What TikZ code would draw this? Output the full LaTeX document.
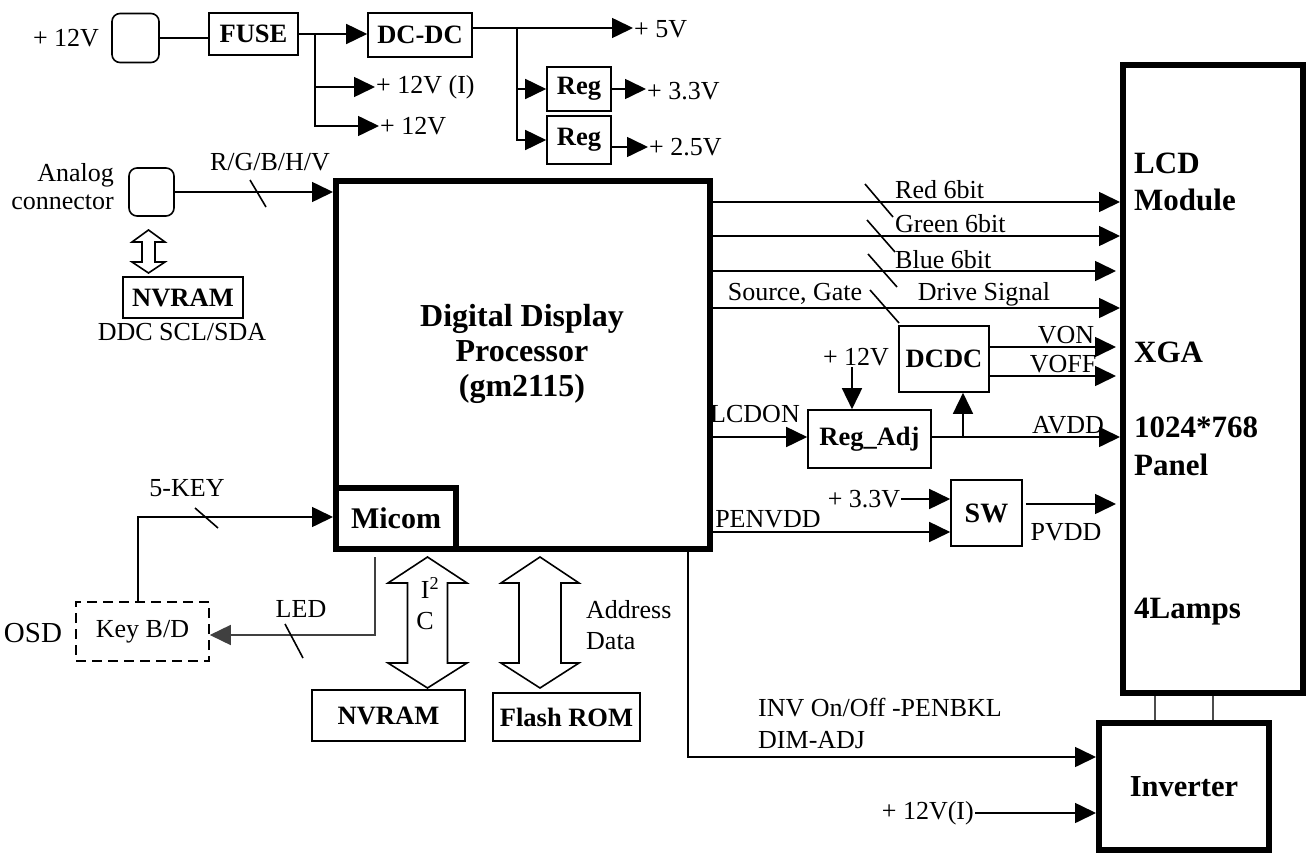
\documentclass[tikz,border=0pt]{standalone}
\usepackage{fontspec}
\setmainfont{Liberation Serif}
\usetikzlibrary{arrows.meta,calc}
\tikzset{
  every node/.style={font=\fontsize{26}{30}\selectfont, inner sep=1pt},
  bx/.style={draw, line width=1.6pt, inner sep=0pt, font=\fontsize{26.5}{30}\selectfont\bfseries},
  tbx/.style={draw, line width=6pt, inner sep=0pt},
  ln/.style={line width=1.6pt},
  ar/.style={line width=1.6pt, -{Triangle[length=21pt,width=20pt]}},
  big/.style={font=\fontsize{31}{36}\selectfont\bfseries},
  ttl/.style={font=\fontsize{32}{35}\selectfont\bfseries, align=center},
  hollow/.style={line width=1.6pt, fill=white},
}
\begin{document}
\begin{tikzpicture}[x=1pt,y=-1pt]
\useasboundingbox (0,0) rectangle (1308,853);

% ---------- power section ----------
\node (l12a) at (66,38) {+ 12V};
\node[draw, line width=1.6pt, rounded corners=8pt, minimum width=47pt, minimum height=49pt] (pwr) at (135.5,38) {};
\node[bx, minimum width=89pt, minimum height=42pt] (fuse) at (253.5,34) {FUSE};
\node[bx, minimum width=104pt, minimum height=44pt] (dcdc1) at (420,35) {DC-DC};
\node[bx, minimum width=64pt, minimum height=44pt] (reg1) at (579,89) {Reg};
\node[bx, minimum width=64pt, minimum height=48pt] (reg2) at (579,140) {Reg};
\node[anchor=west] (l12i) at (375,87) {+ 12V (I)};
\node[anchor=west] (l12) at (379,126) {+ 12V};
\node[anchor=west] (l5v) at (633,29) {+ 5V};
\node[anchor=west] (l33) at (646,91) {+ 3.3V};
\node[anchor=west] (l25) at (648,147) {+ 2.5V};
\coordinate (b1) at (315,34);
\coordinate (b2) at (517,28);

\draw[ln] (pwr.east) -- (pwr.east -| fuse.west);
\draw[ar] (fuse.east) -- (fuse.east -| dcdc1.west);
\draw[ar] (b1) |- (l12i.west);
\draw[ar] (b1) |- (l12.west);
\draw[ar] (dcdc1.east |- b2) -- (b2 -| l5v.west);
\draw[ar] (b2) |- (reg1.west);
\draw[ar] (b2) |- (reg2.west);
\draw[ar] (reg1.east) -- (reg1.east -| l33.west);
\draw[ar] (reg2.east |- l25.west) -- (l25.west);

% ---------- analog input ----------
\node[anchor=east, align=right, font=\fontsize{26}{28}\selectfont] (anal) at (115,187) {Analog\\connector};
\node[draw, line width=1.6pt, rounded corners=8pt, minimum width=45pt, minimum height=48pt] (ana) at (151.5,192) {};
\node (lrgb) at (270,162) {R/G/B/H/V};
\node[bx, minimum width=120pt, minimum height=41pt] (nv1) at (183,297.5) {NVRAM};
\node (lddc) at (182,332) {DDC SCL/SDA};
\draw[hollow] (148.5,230) -- (165,242) -- (155,242) -- (155,262) -- (165,262) -- (148.5,273)
  -- (132,262) -- (142,262) -- (142,242) -- (132,242) -- cycle;

% ---------- main processor ----------
\node[tbx, minimum width=374pt, minimum height=368pt] (ddp) at (523,365) {};
\node[ttl] (ddpt) at (522,354) {Digital Display\\Processor\\(gm2115)};
\node[tbx, minimum width=120pt, minimum height=61pt, font=\fontsize{30}{34}\selectfont\bfseries] (micom) at (396,518.5) {Micom};

\draw[ar] (ana.east) -- (ana.east -| ddp.west);
\draw[ln] (250,180) -- (266,207);

% ---------- LCD module ----------
\node[tbx, minimum width=180pt, minimum height=628pt] (lcd) at (1213,379) {};
\node[big, anchor=west] (tlcd) at (1133,163) {LCD};
\node[big, anchor=west] (tmod) at (1133,200) {Module};
\node[big, anchor=west] (txga) at (1133,352) {XGA};
\node[big, anchor=west] (tres) at (1133,427) {1024*768};
\node[big, anchor=west] (tpan) at (1133,465) {Panel};
\node[big, anchor=west] (tlmp) at (1133,612) {4Lamps};

% signal lines
\draw[ar] (ddp.east |- 0,202) -- (lcd.west |- 0,202);
\draw[ar] (ddp.east |- 0,236) -- (lcd.west |- 0,236);
\draw[ar] (ddp.east |- 0,271) -- ([xshift=-4pt]lcd.west |- 0,271);
\draw[ar] (ddp.east |- 0,308) -- (lcd.west |- 0,308);
\draw[ln] (865,184) -- (893,217);
\draw[ln] (867,220) -- (895,252);
\draw[ln] (868,254) -- (897,287);
\draw[ln] (870,290) -- (899,323);
\node[anchor=west] (lred) at (894,190) {Red 6bit};
\node[anchor=west] (lgrn) at (894,224) {Green 6bit};
\node[anchor=west] (lblu) at (894,260) {Blue 6bit};
\node (lsrc) at (795,294) {Source, Gate};
\node (ldrv) at (984,294) {Drive Signal};

% DCDC / Reg_Adj
\node[bx, minimum width=90pt, minimum height=66pt] (dcdc2) at (944,359) {DCDC};
\node[bx, minimum width=123pt, minimum height=58pt] (regadj) at (869.5,439) {Reg\_Adj};
\node (lvon) at (1066,335) {VON};
\node (lvoff) at (1063,364) {VOFF};
\node (l12b) at (856,357) {+ 12V};
\node (llcd) at (755,414) {LCDON};
\node (lavdd) at (1068,425) {AVDD};
\draw[ar] (dcdc2.east |- 0,347) -- ([xshift=-4pt]lcd.west |- 0,347);
\draw[ar] (dcdc2.east |- 0,376) -- ([xshift=-4pt]lcd.west |- 0,376);
\draw[ar] (852,0 |- l12b.south) -- (852,0 |- regadj.north);
\draw[ar] (ddp.east |- 0,437) -- (regadj.west |- 0,437);
\draw[ar] (regadj.east |- 0,437) -- (lcd.west |- 0,437);
\draw[ar] (963,0 |- regadj.east) ++(0,-2) -- (963,0 |- dcdc2.south);

% SW
\node[bx, minimum width=71pt, minimum height=66pt, font=\fontsize{28}{30}\selectfont\bfseries] (sw) at (986.5,513) {SW};
\node (l33b) at (864,499) {+ 3.3V};
\node (lpen) at (768,519) {PENVDD};
\node (lpvdd) at (1066,532) {PVDD};
\draw[ar] (l33b.east) -- (l33b.east -| sw.west);
\draw[ar] (ddp.east |- 0,532) -- (sw.west |- 0,532);
\draw[ar] ([xshift=3pt]sw.east |- 0,504) -- ([xshift=-4pt]lcd.west |- 0,504);

% ---------- inverter ----------
\node[tbx, minimum width=170pt, minimum height=127pt, font=\fontsize{30.5}{34}\selectfont\bfseries] (inv) at (1184,786.5) {Inverter};
\node[anchor=west] (linv1) at (757,708) {INV On/Off -PENBKL};
\node[anchor=west] (linv2) at (757,740) {DIM-ADJ};
\node[anchor=east] (l12ii) at (975,813) {+ 12V(I)};
\draw[ar] (ddp.south -| 688,0) |- (inv.west |- 0,757);
\draw[ar] (l12ii.east) -- (l12ii.east -| inv.west);
\draw[line width=1.2pt, black!70] (lcd.south -| 1155,0) -- (inv.north -| 1155,0);
\draw[line width=1.2pt, black!70] (lcd.south -| 1213,0) -- (inv.north -| 1213,0);

% ---------- keys ----------
\node[draw, line width=1.6pt, dash pattern=on 10pt off 6pt, minimum width=133pt, minimum height=59pt] (key) at (142.5,631.5) {Key B/D};
\node[font=\fontsize{29}{32}\selectfont] (losd) at (33,633) {OSD};
\node (l5key) at (187,488) {5-KEY};
\node (lled) at (301,609) {LED};
\draw[ar] (key.north -| 138,0) |- (micom.west |- 0,517);
\draw[ln] (195,508) -- (218,528);
\draw[ar, black!75] (micom.south -| 375,0) ++(0,5) |- (key.east |- 0,635);
\draw[ln] (285,624) -- (303,658);

% ---------- memories ----------
\node[bx, minimum width=153pt, minimum height=51pt] (nv2) at (388.5,715.5) {NVRAM};
\node[bx, minimum width=147pt, minimum height=48pt] (flash) at (566.5,717) {Flash ROM};
\draw[hollow] (427.5,557) -- (467,583) -- (447.5,583) -- (447.5,663) -- (467,663) -- (427.5,688)
  -- (388,663) -- (407.5,663) -- (407.5,583) -- (388,583) -- cycle;
\draw[hollow] (540,557) -- (579,583) -- (561,583) -- (561,663) -- (579,663) -- (540,688)
  -- (501,663) -- (519,663) -- (519,583) -- (501,583) -- cycle;
\node (li2c) at (430,588) {I\textsuperscript{2}};
\node (lc) at (425,621) {C};
\node[anchor=west, align=left, font=\fontsize{26}{31}\selectfont] (ladr) at (585,625) {Address\\Data};
\end{tikzpicture}
\end{document}
